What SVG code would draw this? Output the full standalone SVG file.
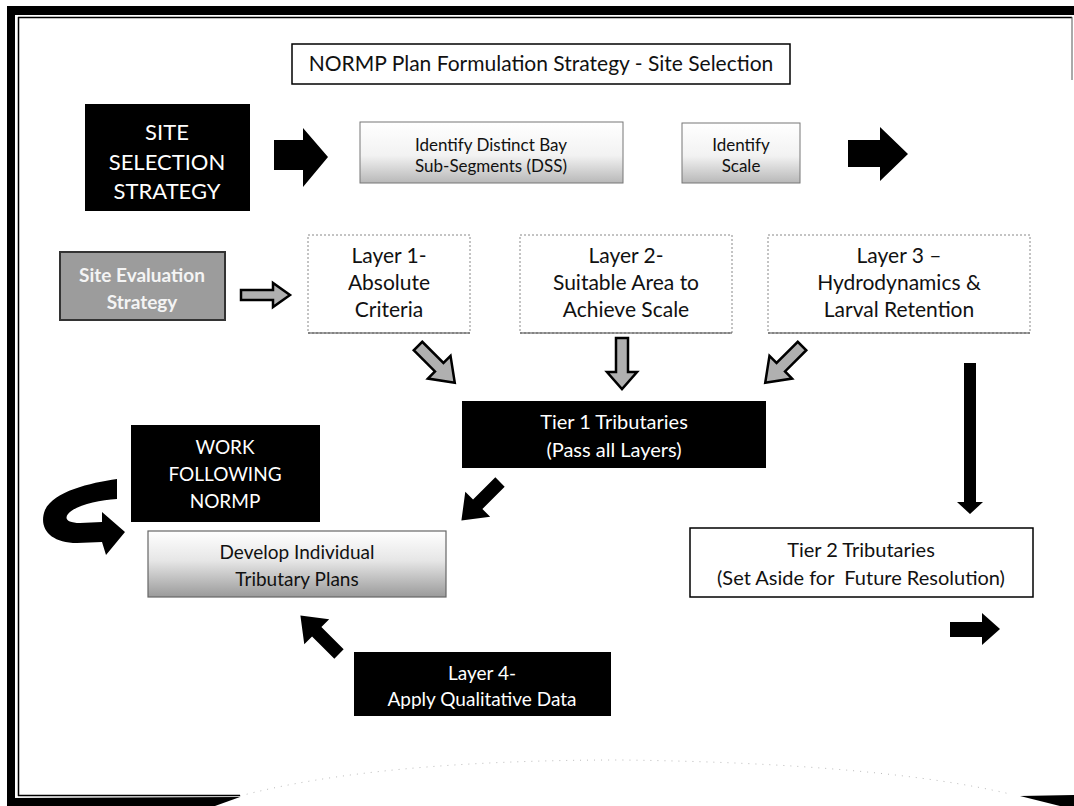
<svg xmlns="http://www.w3.org/2000/svg" width="1074" height="806" viewBox="0 0 1074 806">
<defs>
<style>
text{font-family:Lato,"Liberation Sans",sans-serif;text-anchor:middle}
.w{fill:#fff}
.k{fill:#111}
.blk{fill:#000}
.lay{fill:#fff;stroke:#888;stroke-width:1;stroke-dasharray:2,2}
.hol{fill:#b0b0b0;stroke:#000;stroke-width:2.5;stroke-linejoin:miter}
.sol{fill:#000}
</style>
<linearGradient id="gr1" x1="0" y1="0" x2="0" y2="1">
<stop offset="0" stop-color="#ffffff"/>
<stop offset="0.55" stop-color="#f2f2f2"/>
<stop offset="1" stop-color="#b8b8b8"/>
</linearGradient>
<linearGradient id="gr2" x1="0" y1="0" x2="0" y2="1">
<stop offset="0" stop-color="#ffffff"/>
<stop offset="0.45" stop-color="#e6e6e6"/>
<stop offset="1" stop-color="#9a9a9a"/>
</linearGradient>
<path id="arr" d="M0,-6 L30,-6 L30,-16 L52,0 L30,16 L30,6 L0,6 Z"/>
</defs>

<g id="frame">
<rect x="7" y="6" width="1067" height="9" fill="#000"/>
<rect x="7" y="6" width="8" height="800" fill="#000"/>
<line x1="18" y1="17.5" x2="1072" y2="17.5" stroke="#000" stroke-width="1.5"/>
<line x1="18.5" y1="17" x2="18.5" y2="796" stroke="#000" stroke-width="1.5"/>
<line x1="1072" y1="17" x2="1072" y2="80" stroke="#555" stroke-width="1"/>
<line x1="18" y1="795.5" x2="240" y2="795.5" stroke="#000" stroke-width="1.5"/>
<path d="M7,798 L240,797 L215,806 L7,806 Z" fill="#000"/>
<path d="M1020,796 L1074,795 L1074,806 L1060,806 Z" fill="#000"/>
<path d="M240,796 C330,772 460,760 620,760 C800,762 930,775 1010,794" fill="none" stroke="#bbb" stroke-width="1" stroke-dasharray="1,6"/>
</g>

<g id="title">
<rect x="292" y="44" width="498" height="40" fill="#fff" stroke="#000" stroke-width="1.5"/>
<text x="541" y="71" font-size="21" class="k">NORMP Plan Formulation Strategy - Site Selection</text>
</g>

<g id="site-selection">
<rect x="85" y="104" width="165" height="107" class="blk"/>
<text x="167" y="140" font-size="22" class="w">SITE</text>
<text x="167" y="170" font-size="22" class="w">SELECTION</text>
<text x="167" y="199" font-size="22" class="w">STRATEGY</text>
</g>

<g id="dss">
<rect x="360" y="122" width="263" height="61" fill="url(#gr1)" stroke="#777" stroke-width="1"/>
<text x="491" y="151" font-size="17" class="k">Identify Distinct Bay</text>
<text x="491" y="172" font-size="17" class="k">Sub-Segments (DSS)</text>
</g>

<g id="scale">
<rect x="682" y="123" width="118" height="60" fill="url(#gr1)" stroke="#777" stroke-width="1"/>
<text x="741" y="151" font-size="17" class="k">Identify</text>
<text x="741" y="172" font-size="17" class="k">Scale</text>
</g>

<g id="site-evaluation">
<rect x="60" y="252" width="165" height="68" fill="#9c9c9c" stroke="#333" stroke-width="2"/>
<text x="142" y="282" font-size="19" font-weight="bold" fill="#f4f4f4">Site Evaluation</text>
<text x="142" y="309" font-size="19" font-weight="bold" fill="#f4f4f4">Strategy</text>
</g>

<g id="layer1">
<rect x="308" y="235" width="162" height="98" class="lay"/>
<line x1="308" y1="333" x2="470" y2="333" stroke="#444" stroke-width="1.2"/>
<text x="389" y="263" font-size="21" class="k">Layer 1-</text>
<text x="389" y="290" font-size="21" class="k">Absolute</text>
<text x="389" y="317" font-size="21" class="k">Criteria</text>
</g>

<g id="layer2">
<rect x="520" y="235" width="212" height="98" class="lay"/>
<line x1="520" y1="333" x2="732" y2="333" stroke="#444" stroke-width="1.2"/>
<text x="626" y="263" font-size="21" class="k">Layer 2-</text>
<text x="626" y="290" font-size="21" class="k">Suitable Area to</text>
<text x="626" y="317" font-size="21" class="k">Achieve Scale</text>
</g>

<g id="layer3">
<rect x="768" y="235" width="262" height="98" class="lay"/>
<line x1="768" y1="333" x2="1030" y2="333" stroke="#444" stroke-width="1.2"/>
<text x="899" y="263" font-size="21" class="k">Layer 3 –</text>
<text x="899" y="290" font-size="21" class="k">Hydrodynamics &amp;</text>
<text x="899" y="317" font-size="21" class="k">Larval Retention</text>
</g>

<g id="tier1">
<rect x="462" y="401" width="304" height="67" class="blk"/>
<text x="614" y="429" font-size="20" class="w">Tier 1 Tributaries</text>
<text x="614" y="457" font-size="20" class="w">(Pass all Layers)</text>
</g>

<g id="work-following">
<rect x="131" y="425" width="189" height="97" class="blk"/>
<text x="225" y="454" font-size="19" class="w">WORK</text>
<text x="225" y="481" font-size="19" class="w">FOLLOWING</text>
<text x="225" y="508" font-size="19" class="w">NORMP</text>
</g>

<g id="develop">
<rect x="148" y="531" width="298" height="66" fill="url(#gr2)" stroke="#666" stroke-width="1.2"/>
<text x="297" y="559" font-size="19" class="k">Develop Individual</text>
<text x="297" y="586" font-size="19" class="k">Tributary Plans</text>
</g>

<g id="tier2">
<rect x="690" y="528" width="343" height="69" fill="#fff" stroke="#000" stroke-width="1.5"/>
<text x="861" y="557" font-size="20" class="k">Tier 2 Tributaries</text>
<text x="861" y="585" font-size="20" class="k">(Set Aside for&#160; Future Resolution)</text>
</g>

<g id="layer4">
<rect x="354" y="652" width="257" height="64" class="blk"/>
<text x="482" y="680" font-size="19" class="w">Layer 4-</text>
<text x="482" y="706" font-size="19" class="w">Apply Qualitative Data</text>
</g>

<g id="connectors">
<path d="M274,140 L303,140 L303,128 L328,157 L303,187 L303,170 L274,170 Z" class="sol"/>
<path d="M848,140 L880,140 L880,127 L908,154 L880,181 L880,167 L848,167 Z" class="sol"/>
<path d="M241,290 L273,290 L273,283 L290,295 L273,307 L273,300 L241,300 Z" class="hol"/>
<use href="#arr" transform="translate(418,346) rotate(45)" class="hol"/>
<path d="M616,338 L628,338 L628,372 L637,372 L622,389 L607,372 L616,372 Z" class="hol"/>
<use href="#arr" transform="translate(802,346) rotate(135)" class="hol"/>
<path d="M964,363 L976,363 L976,502 L983,502 L970,514 L957,502 L964,502 Z" class="sol"/>
<use href="#arr" transform="translate(500,482) rotate(135) scale(1.05,1.1)" class="sol"/>
<use href="#arr" transform="translate(339,654) rotate(225) scale(1.05,1.1)" class="sol"/>
<path d="M950,622 L982,622 L982,613 L1000,629 L982,645 L982,637 L950,637 Z" class="sol"/>
<path d="M117,479 C90,483 54,491 45,510 C38,528 50,543 77,543 L102,542 L106,555 L125,532 L102,512 L102,522 L80,523 C68,523 64,519 68,514 C76,505 98,500 117,499 Z" class="sol"/>
</g>
</svg>
